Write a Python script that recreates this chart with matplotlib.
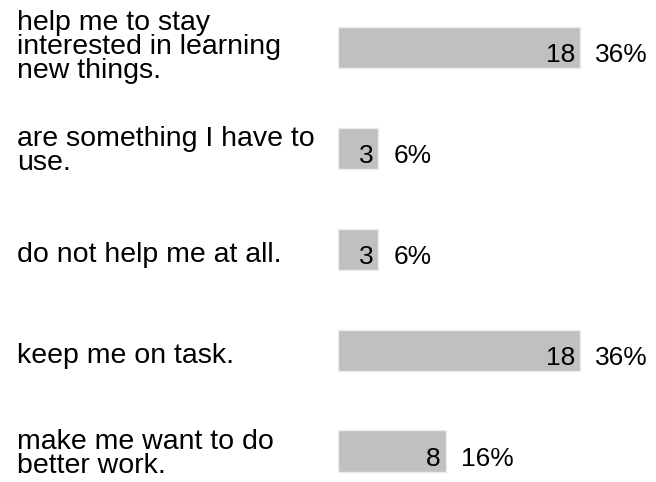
import matplotlib
matplotlib.use('Agg')
import matplotlib.pyplot as plt
from matplotlib.transforms import blended_transform_factory, offset_copy

# survey answers, counts and shares
answers = [
    "help me to stay\ninterested in learning\nnew things.",
    "are something I have to\nuse.",
    "do not help me at all.",
    "keep me on task.",
    "make me want to do\nbetter work.",
]
counts = [18, 3, 3, 18, 8]
percents = ["36%", "6%", "6%", "36%", "16%"]

plt.rcParams['font.family'] = ['Liberation Sans', 'DejaVu Sans']

fig = plt.figure(figsize=(6.56, 4.82), dpi=100)
# bars live in the right part of the figure, labels to the left
ax = fig.add_axes([338 / 656, 0, 318 / 656, 1])
ax.set_xlim(0, 318 / 13.45)
ax.set_ylim(4.307, -0.474)
ax.axis('off')

ypos = list(range(len(answers)))
ax.barh(ypos, counts, height=0.41, color='#c0c0c0',
        edgecolor='#ebebeb', linewidth=1)

label_tf = blended_transform_factory(fig.transFigure, ax.transData)
for y, text in zip(ypos, answers):
    nlines = text.count("\n") + 1
    # baseline of the last line, in pixels below the bar centre
    shift = 12.5 + 9 * (nlines - 1)
    tf = offset_copy(label_tf, fig=fig, x=0, y=-shift, units='dots')
    ax.text(17 / 656, y, text, transform=tf, ha='left', va='baseline',
            fontsize=20.5, linespacing=0.9, color='black')

for y, c, p in zip(ypos, counts, percents):
    ax.annotate(str(c), xy=(c, y), xytext=(-5, -14.5), textcoords='offset pixels',
                ha='right', va='baseline', fontsize=19, color='black')
    ax.annotate(p, xy=(c, y), xytext=(15, -14.5), textcoords='offset pixels',
                ha='left', va='baseline', fontsize=19, color='black')

fig.savefig('out.png', dpi=100, facecolor='white')
